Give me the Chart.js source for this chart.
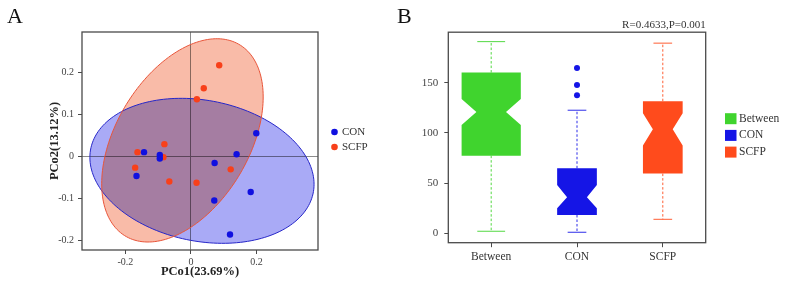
<!DOCTYPE html>
<html>
<head>
<meta charset="utf-8">
<script src="https://cdn.jsdelivr.net/npm/chart.js@4.4.0/dist/chart.umd.min.js"></script>
<style>
  html, body { margin: 0; padding: 0; background: #fff; }
  #wrap { position: relative; width: 789px; height: 286px; overflow: hidden; font-family: "Liberation Serif", "Times New Roman", serif; }
  #boxA { position: absolute; left: 0; top: 0; width: 395px; height: 286px; }
  #boxB { position: absolute; left: 395px; top: 0; width: 394px; height: 286px; }
  .tag { position: absolute; font-size: 22px; line-height: 22px; color: #111; }
</style>
</head>
<body>
<div id="wrap">
  <div id="boxA"><canvas id="pcoa" width="395" height="286"></canvas></div>
  <div id="boxB"><canvas id="anosim" width="394" height="286"></canvas></div>
  <div class="tag" style="left:7px; top:5px;">A</div>
  <div class="tag" style="left:397px; top:5px;">B</div>
</div>
<script>
// --- panel A: PCoA ---
const pcoaXTicks = [-0.2, 0, 0.2];
const pcoaYTicks = [-0.2, -0.1, 0, 0.1, 0.2];

const conX = [0.199, 0.139, 0.072, 0.182, 0.071, 0.119, -0.143, -0.095, -0.095, -0.166];
const conY = [0.055, 0.005, -0.016, -0.085, -0.105, -0.186, 0.010, 0.003, -0.005, -0.047];
const scfpX = [0.086, 0.039, 0.018, -0.081, -0.163, -0.084, -0.170, -0.066, 0.017, 0.121];
const scfpY = [0.217, 0.162, 0.136, 0.029, 0.010, -0.002, -0.027, -0.060, -0.063, -0.031];

// confidence ellipses: CON, SCFP (centre, half extents, correlation)
const ellipseCx = [0.0335, -0.026];
const ellipseCy = [-0.0345, 0.038];
const ellipseRx = [0.3415, 0.246];
const ellipseRy = [0.1726, 0.242];
const ellipseR = [-0.185, 0.427];

// --- panel B: ANOSIM boxplot ---
const groups = ['Between', 'CON', 'SCFP'];
const groupSizes = [100, 45, 45];
const whiskerLow = [2.0, 1.0, 13.9];
const q1 = [77.3, 18.2, 59.4];
const notchLow = [107.9, 24.9, 87.4];
const median = [120.8, 35.9, 103.6];
const notchHigh = [133.8, 48.1, 119.5];
const q3 = [160.0, 64.7, 131.5];
const whiskerHigh = [190.8, 122.5, 189.3];
const conOutliers = [164.6, 147.7, 137.4];
const boxYTicks = [0, 50, 100, 150];

const serif = "'Liberation Serif', 'Times New Roman', serif";
const conColor = '#1010e0';
const scfpColor = '#f8401a';
const ellipseFill = ['#a9aaf6', '#f9bba8'];
const ellipseLine = ['#2626c8', '#e8553a'];
const boxColors = ['#40d42e', '#1515e6', '#ff4b1c'];
const axisColor = '#4a4a4a';

const fmt = v => v === 0 ? '0' : String(v);

// --- plugins ---
const frame = {
  id: 'frame',
  afterDraw(chart) {
    const { ctx, chartArea: a } = chart;
    ctx.save();
    ctx.strokeStyle = axisColor;
    ctx.lineWidth = 1.3;
    ctx.strokeRect(a.left, a.top, a.right - a.left, a.bottom - a.top);
    ctx.restore();
  }
};

const ellipsePath = (ctx, x, y, i) => {
  const r = ellipseR[i];
  ctx.beginPath();
  for (let k = 0; k <= 180; k++) {
    const t = k / 180 * Math.PI * 2;
    const ex = ellipseCx[i] + ellipseRx[i] * Math.cos(t);
    const ey = ellipseCy[i] + ellipseRy[i] * (r * Math.cos(t) + Math.sqrt(1 - r * r) * Math.sin(t));
    const px = x.getPixelForValue(ex), py = y.getPixelForValue(ey);
    if (k) ctx.lineTo(px, py); else ctx.moveTo(px, py);
  }
  ctx.closePath();
};

const ellipses = {
  id: 'ellipses',
  beforeDatasetsDraw(chart) {
    const { ctx, chartArea: a, scales: { x, y } } = chart;
    ctx.save();
    ctx.beginPath();
    ctx.rect(a.left, a.top, a.right - a.left, a.bottom - a.top);
    ctx.clip();
    // fills overlap like translucent layers
    ctx.globalCompositeOperation = 'multiply';
    [0, 1].forEach(i => {
      ellipsePath(ctx, x, y, i);
      ctx.fillStyle = ellipseFill[i];
      ctx.fill();
    });
    ctx.globalCompositeOperation = 'source-over';
    [0, 1].forEach(i => {
      ellipsePath(ctx, x, y, i);
      ctx.strokeStyle = ellipseLine[i];
      ctx.lineWidth = 1;
      ctx.stroke();
    });
    ctx.restore();
  }
};

const legendA = {
  id: 'legendA',
  afterDraw(chart) {
    const ctx = chart.ctx;
    ctx.save();
    ctx.font = '11px ' + serif;
    ctx.textBaseline = 'middle';
    [['CON', conColor, 132], ['SCFP', scfpColor, 147]].forEach(([t, c, yy]) => {
      ctx.beginPath();
      ctx.arc(334.5, yy, 3.3, 0, Math.PI * 2);
      ctx.fillStyle = c;
      ctx.fill();
      ctx.fillStyle = '#333';
      ctx.fillText(t, 342, yy);
    });
    ctx.restore();
  }
};

const boxes = {
  id: 'boxes',
  beforeDatasetsDraw(chart) {
    const { ctx, scales: { x, y } } = chart;
    const catW = x.width / groups.length;
    const maxN = Math.max(...groupSizes);
    ctx.save();
    groups.forEach((g, i) => {
      const cx = x.getPixelForValue(i);
      const hw = 0.69 * catW / 2 * Math.sqrt(groupSizes[i] / maxN);
      const nw = hw * 0.5;
      const cap = hw * 0.47;
      const p = v => y.getPixelForValue(v);
      const col = boxColors[i];
      // whiskers
      ctx.strokeStyle = col;
      ctx.lineWidth = 0.9;
      ctx.setLineDash([2.5, 2]);
      ctx.beginPath();
      ctx.moveTo(cx, p(q3[i])); ctx.lineTo(cx, p(whiskerHigh[i]));
      ctx.moveTo(cx, p(q1[i])); ctx.lineTo(cx, p(whiskerLow[i]));
      ctx.stroke();
      ctx.setLineDash([]);
      ctx.beginPath();
      ctx.moveTo(cx - cap, p(whiskerHigh[i])); ctx.lineTo(cx + cap, p(whiskerHigh[i]));
      ctx.moveTo(cx - cap, p(whiskerLow[i])); ctx.lineTo(cx + cap, p(whiskerLow[i]));
      ctx.stroke();
      // notched box
      ctx.beginPath();
      ctx.moveTo(cx - hw, p(q3[i]));
      ctx.lineTo(cx + hw, p(q3[i]));
      ctx.lineTo(cx + hw, p(notchHigh[i]));
      ctx.lineTo(cx + nw, p(median[i]));
      ctx.lineTo(cx + hw, p(notchLow[i]));
      ctx.lineTo(cx + hw, p(q1[i]));
      ctx.lineTo(cx - hw, p(q1[i]));
      ctx.lineTo(cx - hw, p(notchLow[i]));
      ctx.lineTo(cx - nw, p(median[i]));
      ctx.lineTo(cx - hw, p(notchHigh[i]));
      ctx.closePath();
      ctx.fillStyle = col;
      ctx.fill();
    });
    ctx.restore();
  }
};

const legendB = {
  id: 'legendB',
  afterDraw(chart) {
    const ctx = chart.ctx;
    ctx.save();
    ctx.font = '11.5px ' + serif;
    ctx.textBaseline = 'middle';
    groups.forEach((g, i) => {
      const yy = 118.7 + i * 16.7;
      ctx.fillStyle = boxColors[i];
      ctx.fillRect(330, yy - 5.5, 11.5, 11);
      ctx.fillStyle = '#333';
      ctx.fillText(g, 344, yy);
    });
    ctx.restore();
  }
};

// --- chart A ---
new Chart(document.getElementById('pcoa'), {
  type: 'scatter',
  data: {
    datasets: [
      { label: 'CON', data: conX.map((v, i) => ({ x: v, y: conY[i] })), backgroundColor: conColor, pointRadius: 3.2, borderWidth: 0 },
      { label: 'SCFP', data: scfpX.map((v, i) => ({ x: v, y: scfpY[i] })), backgroundColor: scfpColor, pointRadius: 3.2, borderWidth: 0 }
    ]
  },
  options: {
    responsive: false,
    animation: false,
    layout: { padding: { left: 0, top: 32, right: 77, bottom: 0 } },
    plugins: { legend: { display: false }, tooltip: { enabled: false } },
    scales: {
      x: {
        type: 'linear', min: -0.332, max: 0.387,
        afterBuildTicks: s => { s.ticks = pcoaXTicks.map(v => ({ value: v })); },
        afterFit: s => { s.height = 36; },
        ticks: { callback: fmt, font: { family: serif, size: 10 }, color: '#444', padding: 2, maxRotation: 0 },
        grid: { color: c => (c.tick && c.tick.value === 0) ? '#8c8c8c' : 'rgba(0,0,0,0)', tickColor: axisColor, tickLength: 4 },
        border: { display: false },
        title: { display: true, text: 'PCo1(23.69%)', color: '#222', font: { family: serif, size: 12.5, weight: 'bold' }, padding: { top: 0, bottom: 6.8 } }
      },
      y: {
        type: 'linear', min: -0.223, max: 0.296,
        afterBuildTicks: s => { s.ticks = pcoaYTicks.map(v => ({ value: v })); },
        afterFit: s => { s.width = 82; },
        ticks: { callback: fmt, font: { family: serif, size: 10 }, color: '#444', padding: 4 },
        grid: { color: c => (c.tick && c.tick.value === 0) ? '#8c8c8c' : 'rgba(0,0,0,0)', tickColor: axisColor, tickLength: 4 },
        border: { display: false },
        title: { display: true, text: 'PCo2(13.12%)', color: '#222', font: { family: serif, size: 12.5, weight: 'bold' }, padding: { top: 47.5, bottom: 0 } }
      }
    }
  },
  plugins: [ellipses, frame, legendA]
});

// --- chart B ---
new Chart(document.getElementById('anosim'), {
  type: 'line',
  data: {
    labels: groups,
    datasets: [
      { label: 'CON outliers', data: conOutliers.map(v => ({ x: 'CON', y: v })), showLine: false, backgroundColor: boxColors[1], pointRadius: 3, borderWidth: 0 }
    ]
  },
  options: {
    responsive: false,
    animation: false,
    layout: { padding: { left: 0, top: 0, right: 83.3, bottom: 0 } },
    plugins: {
      legend: { display: false },
      tooltip: { enabled: false },
      title: { display: true, text: 'R=0.4633,P=0.001', align: 'end', color: '#333', font: { family: serif, size: 11, weight: 'normal' }, padding: { top: 19, bottom: 0 } }
    },
    scales: {
      x: {
        type: 'category', offset: true,
        afterFit: s => { s.height = 43.3; },
        ticks: { font: { family: serif, size: 11.5 }, color: '#333', padding: 3, maxRotation: 0 },
        grid: { drawOnChartArea: false, tickColor: axisColor, tickLength: 4.5 },
        border: { display: false }
      },
      y: {
        type: 'linear', min: -9.4, max: 200.2,
        afterBuildTicks: s => { s.ticks = boxYTicks.map(v => ({ value: v })); },
        afterFit: s => { s.width = 53.3; },
        ticks: { font: { family: serif, size: 11 }, color: '#444', padding: 6 },
        grid: { drawOnChartArea: false, tickColor: axisColor, tickLength: 4 },
        border: { display: false }
      }
    }
  },
  plugins: [boxes, frame, legendB]
});
</script>
</body>
</html>
